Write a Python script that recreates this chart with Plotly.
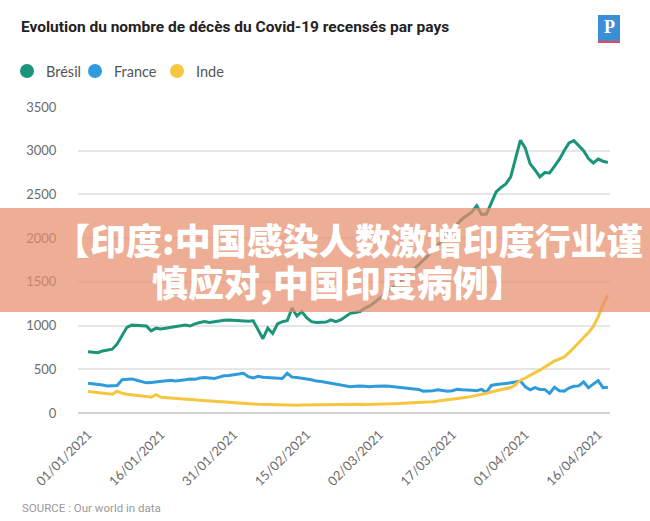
import pandas as pd
import plotly.graph_objects as go

dates = pd.date_range("2021-01-01", periods=108, freq="D")

bresil = [700, 695, 690, 710, 720, 730, 790, 890, 980, 1005,
          1000, 995, 995, 940, 970, 960, 970, 975, 985, 995,
          1005, 995, 1020, 1035, 1045, 1035, 1045, 1050, 1060, 1065,
          1060, 1055, 1050, 1050, 1055, 960, 850, 970, 910, 1020,
          1045, 1055, 1200, 1110, 1160, 1090, 1045, 1035, 1040, 1040,
          1065, 1045, 1065, 1100, 1140, 1150, 1160, 1200, 1225, 1265,
          1310, 1350, 1400, 1450, 1490, 1540, 1590, 1640, 1690, 1740,
          1800, 1860, 1920, 1980, 2050, 2110, 2170, 2220, 2260, 2300,
          2370, 2270, 2275, 2400, 2530, 2580, 2620, 2700, 2920, 3120,
          3030, 2850, 2780, 2700, 2750, 2745, 2820, 2900, 3000, 3090,
          3115, 3060, 3000, 2910, 2860, 2905, 2880, 2865]

france = [340, 335, 330, 320, 310, 310, 315, 380, 385, 390,
          375, 360, 345, 350, 355, 360, 370, 375, 365, 370,
          380, 390, 385, 400, 405, 400, 395, 410, 425, 430,
          435, 445, 455, 415, 400, 420, 410, 405, 405, 400,
          395, 455, 410, 405, 400, 390, 380, 365, 360, 350,
          340, 330, 320, 305, 300, 305, 310, 305, 300, 305,
          310, 310, 305, 300, 295, 290, 285, 280, 270, 250,
          250, 255, 265, 260, 250, 255, 270, 265, 265, 260,
          255, 270, 235, 315, 325, 330, 335, 345, 355, 365,
          300, 265, 290, 270, 270, 225, 295, 255, 250, 285,
          305, 310, 355, 290, 330, 370, 290, 295]

inde = [245, 240, 235, 230, 220, 215, 250, 225, 215, 210,
        205, 200, 190, 180, 210, 180, 175, 170, 165, 160,
        155, 150, 148, 145, 140, 138, 135, 132, 130, 127,
        123, 118, 112, 108, 104, 100, 98, 95, 93, 92,
        91, 90, 90, 90, 91, 92, 93, 95, 95, 97,
        98, 100, 102, 103, 102, 100, 99, 98, 98, 100,
        102, 104, 105, 106, 108, 110, 112, 114, 117, 120,
        125, 130, 136, 142, 150, 158, 168, 172, 180, 190,
        200, 212, 225, 240, 255, 265, 280, 292, 325, 375,
        400, 435, 462, 490, 525, 560, 595, 615, 640, 690,
        745, 800, 860, 920, 990, 1100, 1240, 1350]

series_names = ["Brésil", "France", "Inde"]
series_values = [bresil, france, inde]
series_colors = ["#1b957a", "#2e9bdc", "#f6c640"]

tick_dates = pd.date_range("2021-01-01", periods=8, freq="15D")
tick_text = [d.strftime("%d/%m/%Y") for d in tick_dates]
y_ticks = [0, 500, 1000, 1500, 2000, 2500, 3000, 3500]

title_text = "Evolution du nombre de décès du Covid-19 recensés par pays"
source_text = "SOURCE : Our world in data"
banner_line1 = "【印度:中国感染人数激增印度行业谨"
banner_line2 = "慎应对,中国印度病例】"

fig = go.Figure()
for name, vals, col in zip(series_names, series_values, series_colors):
    fig.add_trace(go.Scatter(x=dates, y=vals, mode="lines", name=name,
                             line=dict(color=col, width=3), showlegend=False,
                             hoverinfo="skip"))

L, R, T, B = 78, 40, 107, 108
W, H = 650, 521
PW = W - L - R
PH = H - T - B

def px(x):
    return (x - L) / PW

def py(y):
    return (H - B - y) / PH

fig.update_layout(
    width=W, height=H,
    margin=dict(l=L, r=R, t=T, b=B),
    paper_bgcolor="white", plot_bgcolor="white",
    showlegend=False,
    font=dict(family="Lato, Open Sans, sans-serif", color="#6b6b6b"),
    title=dict(text=title_text, xref="container", yref="container",
               x=21 / W, y=1 - 27 / H, xanchor="left", yanchor="middle",
               font=dict(family="Roboto", size=15.5, color="#222222", weight="bold")),
    xaxis=dict(type="date",
               range=["2020-12-29 22:30", "2021-04-18 10:30"],
               tickmode="array", tickvals=tick_dates, ticktext=tick_text,
               tickangle=-45, showgrid=False, zeroline=False,
               showline=False, ticks="outside", ticklen=8,
               tickcolor="rgba(0,0,0,0)",
               tickfont=dict(size=13, color="#6b6b6b")),
    yaxis=dict(range=[0, 3500], tickmode="array", tickvals=y_ticks,
               showgrid=True, gridcolor="#e6e6e6", gridwidth=1.5,
               zeroline=True, zerolinecolor="#d2d2d2", zerolinewidth=2,
               showline=False, ticks="outside", ticklen=18,
               tickcolor="rgba(0,0,0,0)",
               tickfont=dict(size=13, color="#6b6b6b")),
)

shapes = [
    # logo
    dict(type="rect", xref="paper", yref="paper", x0=px(598), x1=px(620),
         y0=py(41), y1=py(15), fillcolor="#3a8fd6", line=dict(width=0), layer="above"),
    dict(type="rect", xref="paper", yref="paper", x0=px(598), x1=px(620),
         y0=py(43), y1=py(41), fillcolor="#e8485a", line=dict(width=0), layer="above"),
    # banner overlay
    dict(type="rect", xref="paper", yref="paper", x0=px(0), x1=px(650),
         y0=py(312), y1=py(208), fillcolor="rgba(231,142,108,0.72)",
         line=dict(width=0), layer="above"),
]

# legend (circle + label)
legend_cx = [27, 95, 177]
for name, col, cx in zip(series_names, series_colors, legend_cx):
    shapes.append(dict(type="circle", xref="paper", yref="paper",
                       xsizemode="pixel", ysizemode="pixel",
                       xanchor=px(cx), yanchor=py(71),
                       x0=-7, x1=7, y0=-7, y1=7,
                       fillcolor=col, line=dict(width=0)))
    fig.add_annotation(xref="paper", yref="paper", x=px(cx + 17), y=py(71),
                       text=name, xanchor="left", yanchor="middle", showarrow=False,
                       font=dict(family="Lato, Open Sans", size=14.5, color="#555555"))

fig.update_layout(shapes=shapes)

fig.add_annotation(xref="paper", yref="paper", x=px(609), y=py(27), text="<b>P</b>",
                   xanchor="center", yanchor="middle", showarrow=False,
                   font=dict(family="Liberation Serif, DejaVu Serif", size=18,
                             color="white"))
fig.add_annotation(xref="paper", yref="paper", x=px(20), y=py(508), text=source_text,
                   xanchor="left", yanchor="middle", showarrow=False,
                   font=dict(family="Roboto", size=11.5, color="#9a9a9a"))
fig.add_annotation(xref="paper", yref="paper", x=px(348), y=py(239), text=banner_line1,
                   xanchor="center", yanchor="middle", showarrow=False,
                   font=dict(family="Noto Sans CJK SC", size=36, color="white", weight=900))
fig.add_annotation(xref="paper", yref="paper", x=px(338), y=py(281), text=banner_line2,
                   xanchor="center", yanchor="middle", showarrow=False,
                   font=dict(family="Noto Sans CJK SC", size=36, color="white", weight=900))

fig.write_html("out.html")
